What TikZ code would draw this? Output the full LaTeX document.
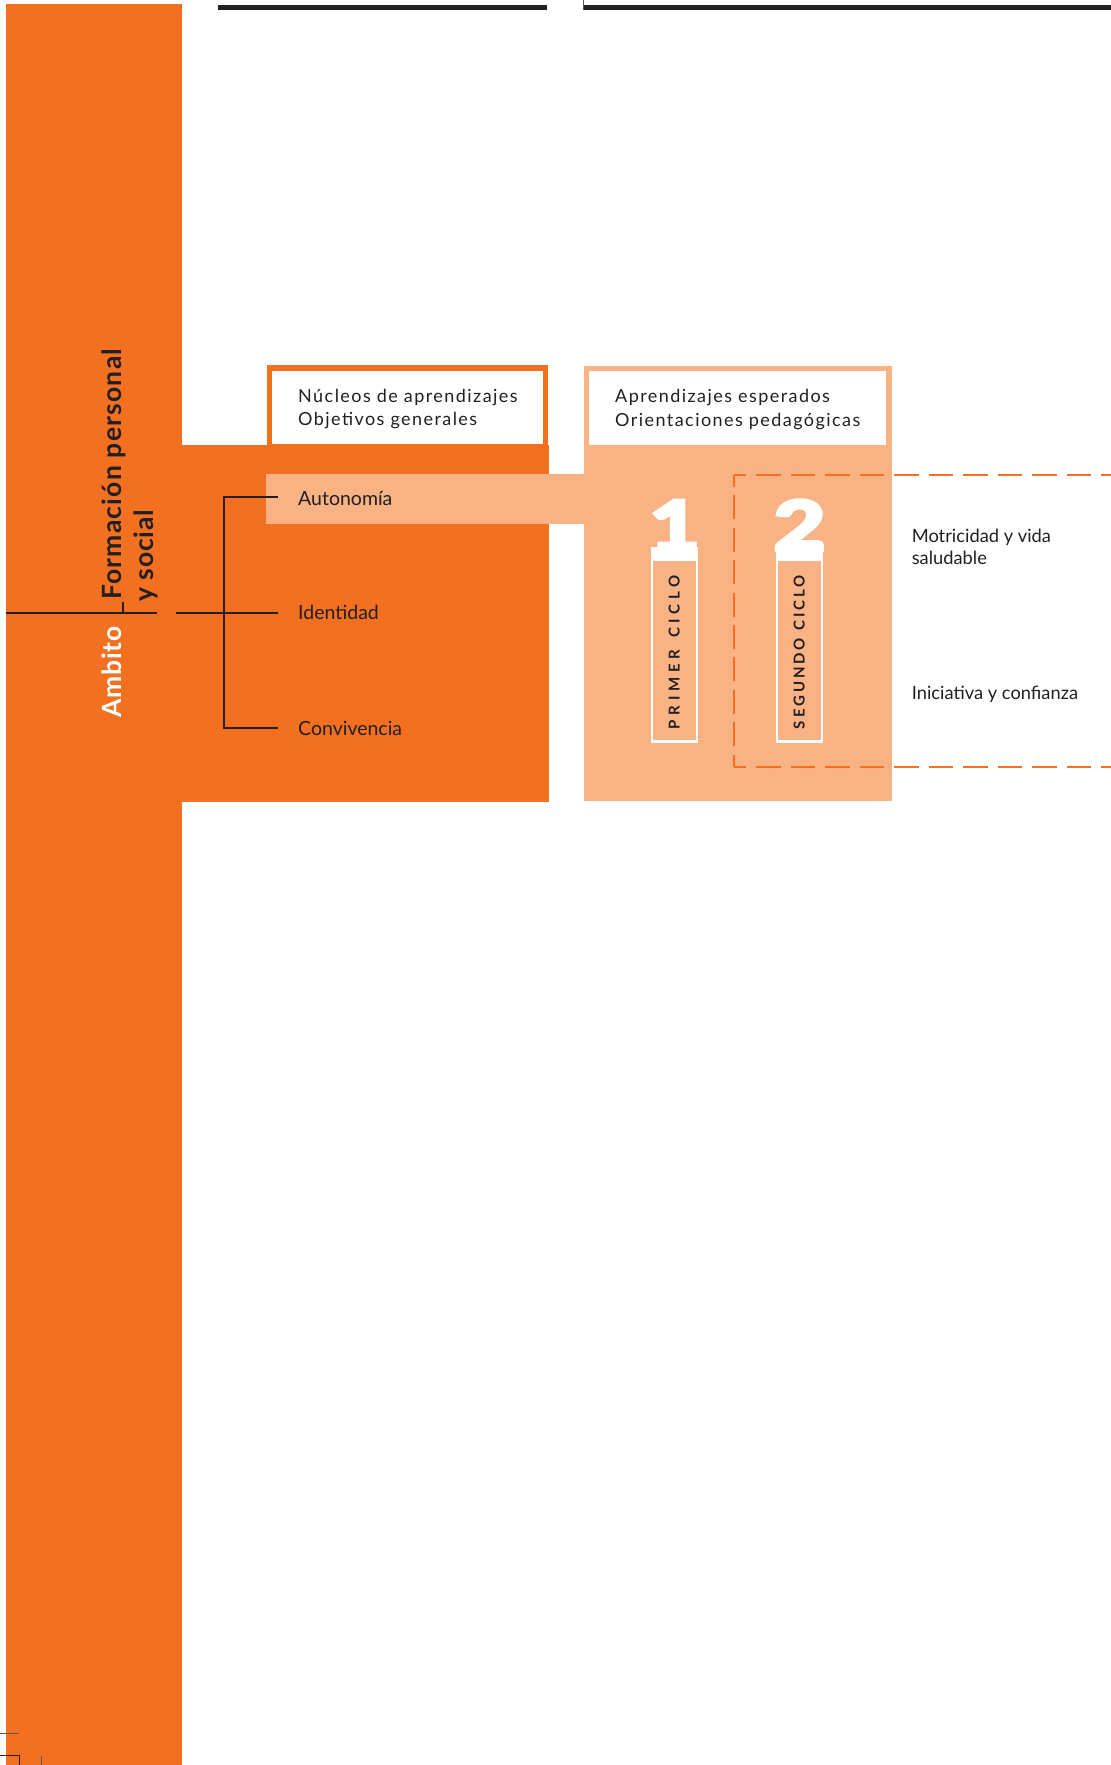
\documentclass[tikz,border=0pt]{standalone}
\usepackage{fontspec}
\setmainfont{Lato}
\newfontfamily\trackfont{Lato}[LetterSpace=8]
\newfontfamily\rotfont{Lato}[LetterSpace=3]
\newfontfamily\rotfontw{Lato}[LetterSpace=4.6]
\newfontfamily\heavyfont{Lato}[BoldFeatures={FakeBold=6}]
\definecolor{orangeC}{HTML}{F37021}
\definecolor{lightC}{HTML}{F9B283}
\definecolor{darkC}{HTML}{231F20}
\definecolor{markC}{HTML}{5A5A5A}
\tikzset{
  treeline/.style={draw=darkC, line width=2pt, line join=miter},
  hdr/.style={inner sep=0pt, anchor=base west, text=darkC, font=\trackfont\fontsize{18}{23.7}\selectfont},
  lbl/.style={inner sep=0pt, anchor=base west, text=darkC, font=\fontsize{19.5}{23}\selectfont},
  rlbl/.style={inner sep=0pt, anchor=base west, text=darkC, font=\fontsize{18.3}{21.6}\selectfont},
  bigrot/.style={inner sep=0pt, anchor=base west, rotate=90, font=\rotfont\bfseries\fontsize{26.5}{30}\selectfont},
  digit/.style={inner sep=0pt, anchor=base, text=white, font=\heavyfont\bfseries\fontsize{68}{68}\selectfont},
  ciclo/.style={inner sep=0pt, anchor=center, rotate=90, text=darkC, font=\bfseries\fontsize{15}{15}\selectfont},
  dashH/.style={draw=orangeC, line width=2.3pt, dash pattern=on 24.5pt off 10pt, dash phase=12.25pt},
  dashV/.style={draw=orangeC, line width=2.3pt, dash pattern=on 24pt off 8.4pt, dash phase=12pt},
  topbar/.style={draw=darkC, line width=5pt},
  cropmark/.style={draw=markC, line width=1pt}
}
\newcommand{\lsp}{\hspace{0pt plus 1fill}}
\newcommand{\wsp}{\hspace{0pt plus 2.6fill}}
\begin{document}
\begin{tikzpicture}[x=1pt,y=-1pt]
\useasboundingbox (0,0) rectangle (1111,1765);
% orange column
\fill[orangeC] (5.6,4) rectangle (182,1765);
% top bars
\coordinate (tb1l) at (218,7.5); \coordinate (tb1r) at (547,7.5);
\coordinate (tb2l) at (583,7.5); \coordinate (tb2r) at (1111,7.5);
\draw[topbar] (tb1l) -- (tb1r);
\draw[topbar] (tb2l) -- (tb2r);
\coordinate (tk1) at (583,0); \coordinate (tk2) at (583,10);
\draw[cropmark] (tk1) -- (tk2);
% orange block and header box
\fill[orangeC] (182,445) rectangle (549,801.5);
\fill[orangeC] (267.3,365) rectangle (548.3,446);
\fill[white] (272.3,371) rectangle (543.3,444);
% light block and header box
\fill[lightC] (583.8,366) rectangle (891.5,800.7);
\fill[white] (589,371.3) rectangle (886.3,445);
% Autonomia band
\fill[lightC] (266,474) rectangle (584.5,523.5);
% dashed frame
\coordinate (dtl) at (734,475); \coordinate (dtr) at (1111,475);
\coordinate (dbl) at (734,766.7); \coordinate (dbr) at (1111,766.7);
\draw[dashH] (dtl) -- (dtr);
\draw[dashV] (dtl) -- (dbl);
\draw[dashH] (dbl) -- (dbr);
% ciclo frames
\fill[white] (651,547.3) rectangle (698.3,742.7);
\fill[lightC] (653.4,560.7) rectangle (695.9,740.4);
\fill[white] (776,547.3) rectangle (823.3,742.7);
\fill[lightC] (778.4,560.7) rectangle (820.9,740.4);
\node[digit] (d1) at (674.6,550) {\scalebox{1.25}[1]{1}};
\node[digit] (d2) at (799.6,550) {\scalebox{1.3}[1]{2}};
\node[ciclo] (c1) at (674.2,652) {\makebox[154pt][s]{P\lsp R\lsp I\lsp M\lsp E\lsp R\wsp C\lsp I\lsp C\lsp L\lsp O}};
\node[ciclo] (c2) at (799.2,652) {\makebox[154pt][s]{S\lsp E\lsp G\lsp U\lsp N\lsp D\lsp O\wsp C\lsp I\lsp C\lsp L\lsp O}};
% headers
\node[hdr] (h1) at (298,402) {Núcleos de aprendizajes};
\node[hdr] (h2) at (298,425.7) {Objetivos generales};
\node[hdr] (h3) at (615,402.3) {Aprendizajes esperados};
\node[hdr] (h4) at (615,426) {Orientaciones pedagógicas};
% labels
\node[lbl] (aut) at (298,505) {Autonomía};
\node[lbl] (ide) at (298,619) {Identidad};
\node[lbl] (con) at (298,735) {Convivencia};
\node[rlbl] (mot1) at (911.6,542.7) {Motricidad y vida};
\node[rlbl] (mot2) at (911.6,564.3) {saludable};
\node[rlbl] (ini) at (911.6,699) {Iniciativa y confianza};
% rotated titles
\node[bigrot, text=darkC, font=\rotfontw\bfseries\fontsize{26.5}{30}\selectfont] (fp1) at (121.7,600) {Formación personal};
\node[bigrot, text=darkC] (fp2) at (153.3,601.7) {y social};
\node[bigrot, text=white] (amb) at (121.7,718) {Ambito};
% ambito line and tick
\coordinate (al) at (5.6,613); \coordinate (ar) at (156.7,613);
\coordinate (tkb) at (123.3,613); \coordinate (tkt) at (123.3,602);
\draw[treeline] (al) -- (ar);
\draw[treeline] (tkb) -- (tkt);
% tree
\coordinate (root) at (176,613);
\coordinate (jA) at (224.3,496.7); \coordinate (jI) at (224.3,613); \coordinate (jC) at (224.3,728.3);
\coordinate (eA) at (277.7,496.7); \coordinate (eI) at (277.7,613); \coordinate (eC) at (277.7,728.3);
\draw[treeline] (eA) -- (jA) -- (jC) -- (eC);
\draw[treeline] (root) -- (eI);
% crop marks bottom left
\coordinate (cm1a) at (0,1733); \coordinate (cm1b) at (19,1733);
\coordinate (cm2a) at (0,1755.3); \coordinate (cm2b) at (19.3,1755.3); \coordinate (cm2c) at (19.3,1765);
\coordinate (cm3a) at (41.7,1756); \coordinate (cm3b) at (41.7,1765);
\draw[cropmark] (cm1a) -- (cm1b);
\draw[draw=darkC, line width=1pt] (cm2a) -- (cm2b) -- (cm2c);
\draw[cropmark] (cm3a) -- (cm3b);
\end{tikzpicture}
\end{document}
